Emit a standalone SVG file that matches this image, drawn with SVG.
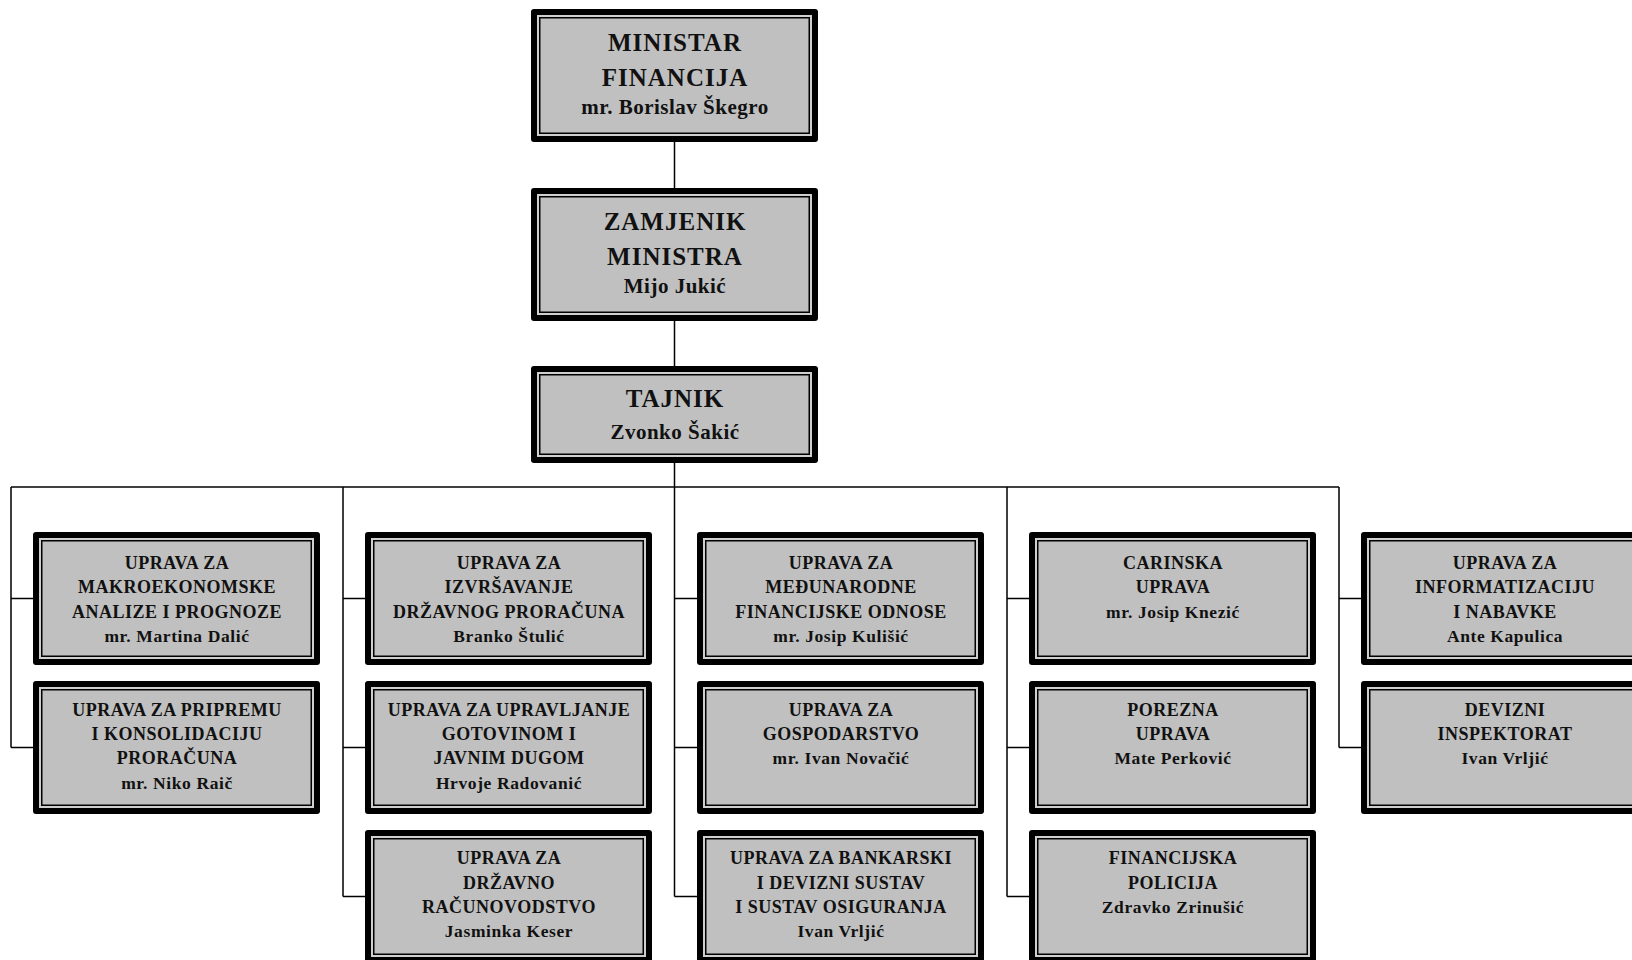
<svg xmlns="http://www.w3.org/2000/svg" xmlns:xlink="http://www.w3.org/1999/xlink" width="1632" height="960" viewBox="0 0 1632 960">
<style>
.c{fill:none;stroke:#000;stroke-width:1.5}
text{font-family:"Liberation Serif","Times New Roman",serif;font-weight:bold;fill:#111;text-anchor:middle}
.h1{font-size:25px;letter-spacing:1px}
.n1{font-size:21px;letter-spacing:0.5px}
.h2{font-size:18px;letter-spacing:0.5px}
.n2{font-size:17.5px;letter-spacing:0.6px}
</style>
<defs>
<g id="f133">
<rect width="287" height="133" rx="3" fill="#000"/>
<rect x="6" y="6" width="275" height="121" fill="#cfcfcf"/>
<rect x="8.75" y="8.75" width="269.5" height="115.5" fill="#c0c0c0" stroke="#000" stroke-width="1.5"/>
</g>
<g id="f97">
<rect width="287" height="97" rx="3" fill="#000"/>
<rect x="6" y="6" width="275" height="85" fill="#cfcfcf"/>
<rect x="8.75" y="8.75" width="269.5" height="79.5" fill="#c0c0c0" stroke="#000" stroke-width="1.5"/>
</g>
</defs>
<rect width="1632" height="960" fill="#fff"/>
<g id="connectors">
<path class="c" d="M674.5 142V188M674.5 321V366M674.5 463V896.5"/>
<path class="c" d="M11 487H1339"/>
<path class="c" d="M11 487V747.5M11 598.5H33M11 747.5H33"/>
<path class="c" d="M343 487V896.5M343 598.5H365M343 747.5H365M343 896.5H365"/>
<path class="c" d="M674.5 598.5H697M674.5 747.5H697M674.5 896.5H697"/>
<path class="c" d="M1007 487V896.5M1007 598.5H1029M1007 747.5H1029M1007 896.5H1029"/>
<path class="c" d="M1339 487V747.5M1339 598.5H1361M1339 747.5H1361"/>
</g>
<g id="ministar">
<use href="#f133" x="531" y="9"/>
<text class="h1" x="675" y="51">MINISTAR</text>
<text class="h1" x="675" y="86">FINANCIJA</text>
<text class="n1" x="675" y="114.3">mr. Borislav Škegro</text>
</g>
<g id="zamjenik">
<use href="#f133" x="531" y="188"/>
<text class="h1" x="675" y="230">ZAMJENIK</text>
<text class="h1" x="675" y="265">MINISTRA</text>
<text class="n1" x="675" y="293.3">Mijo Jukić</text>
</g>
<g id="tajnik">
<use href="#f97" x="531" y="366"/>
<text class="h1" x="675" y="407">TAJNIK</text>
<text class="n1" x="675" y="439">Zvonko Šakić</text>
</g>
<g id="makro">
<use href="#f133" x="33" y="532"/>
<text class="h2" x="177" y="569.3">UPRAVA ZA</text>
<text class="h2" x="177" y="593.4">MAKROEKONOMSKE</text>
<text class="h2" x="177" y="617.6">ANALIZE I PROGNOZE</text>
<text class="n2" x="177" y="641.7">mr. Martina Dalić</text>
</g>
<g id="priprema">
<use href="#f133" x="33" y="681"/>
<text class="h2" x="177" y="716">UPRAVA ZA PRIPREMU</text>
<text class="h2" x="177" y="740.2">I KONSOLIDACIJU</text>
<text class="h2" x="177" y="764.4">PRORAČUNA</text>
<text class="n2" x="177" y="788.6">mr. Niko Raič</text>
</g>
<g id="izvrsavanje">
<use href="#f133" x="365" y="532"/>
<text class="h2" x="509" y="569.3">UPRAVA ZA</text>
<text class="h2" x="509" y="593.4">IZVRŠAVANJE</text>
<text class="h2" x="509" y="617.6">DRŽAVNOG PRORAČUNA</text>
<text class="n2" x="509" y="641.7">Branko Štulić</text>
</g>
<g id="gotovina">
<use href="#f133" x="365" y="681"/>
<text class="h2" x="509" y="716">UPRAVA ZA UPRAVLJANJE</text>
<text class="h2" x="509" y="740.2">GOTOVINOM I</text>
<text class="h2" x="509" y="764.4">JAVNIM DUGOM</text>
<text class="n2" x="509" y="788.6">Hrvoje Radovanić</text>
</g>
<g id="racunovodstvo">
<use href="#f133" x="365" y="830"/>
<text class="h2" x="509" y="864.3">UPRAVA ZA</text>
<text class="h2" x="509" y="888.5">DRŽAVNO</text>
<text class="h2" x="509" y="912.7">RAČUNOVODSTVO</text>
<text class="n2" x="509" y="936.9">Jasminka Keser</text>
</g>
<g id="medjunarodni">
<use href="#f133" x="697" y="532"/>
<text class="h2" x="841" y="569.3">UPRAVA ZA</text>
<text class="h2" x="841" y="593.4">MEĐUNARODNE</text>
<text class="h2" x="841" y="617.6">FINANCIJSKE ODNOSE</text>
<text class="n2" x="841" y="641.7">mr. Josip Kulišić</text>
</g>
<g id="gospodarstvo">
<use href="#f133" x="697" y="681"/>
<text class="h2" x="841" y="716">UPRAVA ZA</text>
<text class="h2" x="841" y="740.2">GOSPODARSTVO</text>
<text class="n2" x="841" y="764.4">mr. Ivan Novačić</text>
</g>
<g id="bankarski">
<use href="#f133" x="697" y="830"/>
<text class="h2" x="841" y="864.3">UPRAVA ZA BANKARSKI</text>
<text class="h2" x="841" y="888.5">I DEVIZNI SUSTAV</text>
<text class="h2" x="841" y="912.7">I SUSTAV OSIGURANJA</text>
<text class="n2" x="841" y="936.9">Ivan Vrljić</text>
</g>
<g id="carinska">
<use href="#f133" x="1029" y="532"/>
<text class="h2" x="1173" y="569.3">CARINSKA</text>
<text class="h2" x="1173" y="593.4">UPRAVA</text>
<text class="n2" x="1173" y="617.6">mr. Josip Knezić</text>
</g>
<g id="porezna">
<use href="#f133" x="1029" y="681"/>
<text class="h2" x="1173" y="716">POREZNA</text>
<text class="h2" x="1173" y="740.2">UPRAVA</text>
<text class="n2" x="1173" y="764.4">Mate Perković</text>
</g>
<g id="policija">
<use href="#f133" x="1029" y="830"/>
<text class="h2" x="1173" y="864.3">FINANCIJSKA</text>
<text class="h2" x="1173" y="888.5">POLICIJA</text>
<text class="n2" x="1173" y="912.7">Zdravko Zrinušić</text>
</g>
<g id="informatizacija">
<use href="#f133" x="1361" y="532"/>
<text class="h2" x="1505" y="569.3">UPRAVA ZA</text>
<text class="h2" x="1505" y="593.4">INFORMATIZACIJU</text>
<text class="h2" x="1505" y="617.6">I NABAVKE</text>
<text class="n2" x="1505" y="641.7">Ante Kapulica</text>
</g>
<g id="inspektorat">
<use href="#f133" x="1361" y="681"/>
<text class="h2" x="1505" y="716">DEVIZNI</text>
<text class="h2" x="1505" y="740.2">INSPEKTORAT</text>
<text class="n2" x="1505" y="764.4">Ivan Vrljić</text>
</g>
</svg>
